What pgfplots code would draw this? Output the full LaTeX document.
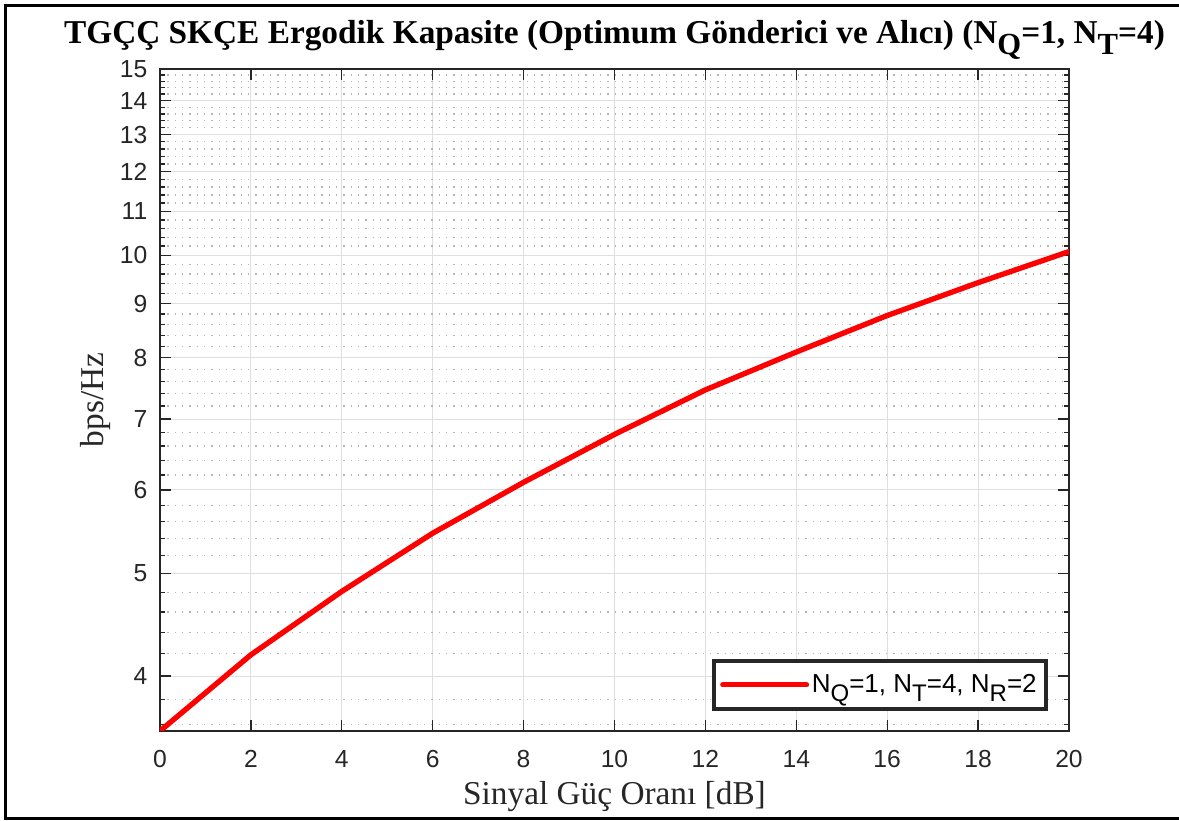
\documentclass[border=0pt]{standalone}
\usepackage{fontspec}
\setmainfont{Liberation Serif}
\newfontfamily\arial{Liberation Sans}
\usepackage{pgfplots}
\pgfplotsset{compat=1.18}
\definecolor{axgray}{HTML}{262626}
\definecolor{gridmaj}{HTML}{DFDFDF}
\definecolor{gridmin}{HTML}{B5B5B5}
\newcommand{\msub}[1]{\raisebox{-0.6ex}{\fontsize{18}{19}\selectfont #1}}
\newcommand{\tsub}[1]{\raisebox{-0.75ex}{\fontsize{23}{24}\selectfont #1}}
\pgfplotstableread{
x y
0 3.55
2 4.19
4 4.81
6 5.46
8 6.10
10 6.77
12 7.46
14 8.10
16 8.77
18 9.42
20 10.08
}\capdata
\begin{document}
\begin{tikzpicture}
\useasboundingbox (-120pt,-67.5pt) rectangle (764.25pt,548.25pt);
\begin{axis}[
  at={(0,0)}, anchor=south west,
  scale only axis,
  width=681.75pt, height=496.5pt,
  xmin=0, xmax=20, ymin=3.55, ymax=15,
  ymode=log,
  log basis y=10,
  xtick={0,2,...,20},
  ytick={4,5,6,7,8,9,10,11,12,13,14,15},
  yticklabels={4,5,6,7,8,9,10,11,12,13,14,15},
  minor ytick={3.6,3.8,4.2,4.4,4.6,4.8,5.2,5.4,5.6,5.8,6.2,6.4,6.6,6.8,7.2,7.4,7.6,7.8,8.2,8.4,8.6,8.8,9.2,9.4,9.6,9.8,10.2,10.4,10.6,10.8,11.2,11.4,11.6,11.8,12.2,12.4,12.6,12.8,13.2,13.4,13.6,13.8,14.2,14.4,14.6,14.8},
  xmajorgrids, ymajorgrids, yminorgrids,
  major grid style={gridmaj, line width=0.75pt},
  minor grid style={gridmin, line width=1pt, dash pattern=on 1pt off 4.5pt},
  axis line style={axgray, line width=1pt},
  tick style={axgray, line width=1pt},
  major tick length=8pt,
  minor tick length=4pt,
  tick align=inside,
  /pgf/number format/assume math mode=true,
  ticklabel style={font=\arial\fontsize{18.5}{21}\selectfont, text=axgray},
  xticklabel style={yshift=-11pt},
  yticklabel style={xshift=-6pt},
  xlabel={Sinyal Güç Oranı [dB]},
  ylabel={bps/Hz},
  xlabel style={font=\fontsize{25}{28}\selectfont, text=axgray, at={(axis description cs:0.5,0)}, anchor=center, yshift=-49.5pt},
  ylabel style={font=\fontsize{25}{28}\selectfont, text=axgray, at={(axis description cs:0,0.5)}, anchor=center, yshift=48.75pt},
  title={\textbf{TGÇÇ SKÇE Ergodik Kapasite (Optimum Gönderici ve Alıcı) (N\tsub{Q}=1, N\tsub{T}=4)}},
  title style={font=\fontsize{25}{28}\selectfont, at={(axis description cs:0.5,1)}, anchor=base, yshift=13.25pt},
  legend style={at={(rel axis cs:1,0)}, anchor=south east, xshift=-15.75pt, yshift=15pt,
    draw=axgray, line width=3pt, fill=white,
    font=\arial\fontsize{19.5}{23}\selectfont,
    inner xsep=5pt, inner ysep=8.5pt},
  legend cell align=left,
  legend image code/.code={\draw[#1, line width=3.75pt] (0pt,0pt) -- (63pt,0pt);},
]
\addplot[red, line width=4pt, line join=round, line cap=round] table[x=x, y=y] {\capdata};
\addlegendentry{N\msub{Q}=1, N\msub{T}=4, N\msub{R}=2}
\end{axis}
\draw[line width=2.25pt, black] (764.25pt,543.75pt) -- (-115.5pt,543.75pt) -- (-115.5pt,-66pt) -- (764.25pt,-66pt);
\end{tikzpicture}
\end{document}
